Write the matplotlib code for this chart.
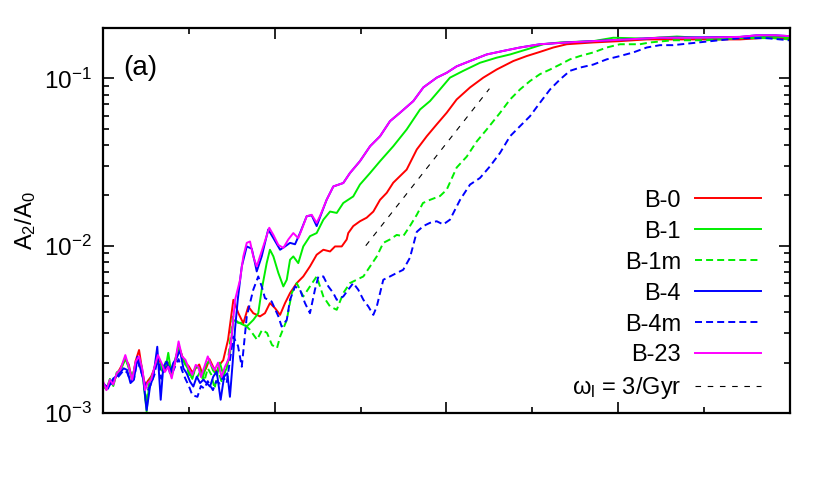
import numpy as np
import matplotlib
matplotlib.use('Agg')
from matplotlib import pyplot as plt
from matplotlib.ticker import LogLocator, NullFormatter, MultipleLocator

plt.rcParams['font.family'] = ['Liberation Sans', 'DejaVu Sans']
plt.rcParams['mathtext.fontset'] = 'custom'
plt.rcParams['mathtext.rm'] = 'Liberation Sans'
plt.rcParams['mathtext.it'] = 'Liberation Sans:italic'
plt.rcParams['mathtext.default'] = 'regular'
plt.rcParams['axes.unicode_minus'] = False

# time (Gyr) and A2/A0
t_b0 = [0.00, 0.02, 0.04, 0.06, 0.08, 0.10, 0.13, 0.15, 0.17, 0.19, 0.21, 0.23, 0.245, 0.26, 0.28, 0.30,
        0.32, 0.34, 0.36, 0.38, 0.40, 0.42, 0.44, 0.46, 0.48, 0.50, 0.52, 0.54, 0.56, 0.58, 0.60, 0.62,
        0.64, 0.66, 0.68, 0.70, 0.728, 0.759, 0.788, 0.817, 0.846, 0.875, 0.914, 0.943, 0.972, 1.001,
        1.031, 1.060, 1.089, 1.128, 1.166, 1.205, 1.244, 1.283, 1.322, 1.351, 1.390, 1.419, 1.428, 1.457,
        1.496, 1.535, 1.574, 1.613, 1.652, 1.690, 1.768, 1.827, 1.885, 1.943, 2.001, 2.059, 2.137, 2.214,
        2.292, 2.389, 2.467, 2.544, 2.622, 2.700, 2.855, 3.010, 3.166, 3.476, 3.709, 3.864, 3.994]
a_b0 = [1.50e-3, 1.40e-3, 1.55e-3, 1.50e-3, 1.70e-3, 1.85e-3, 2.10e-3, 1.95e-3, 1.55e-3, 2.05e-3, 2.38e-3,
        1.75e-3, 1.45e-3, 1.55e-3, 1.65e-3, 1.85e-3, 2.15e-3, 1.95e-3, 1.80e-3, 2.00e-3, 1.70e-3, 2.00e-3,
        2.55e-3, 2.20e-3, 2.00e-3, 1.90e-3, 1.75e-3, 1.85e-3, 1.95e-3, 1.70e-3, 1.85e-3, 2.10e-3, 1.90e-3,
        1.75e-3, 1.95e-3, 2.07e-3, 2.74e-3, 4.75e-3, 3.95e-3, 3.44e-3, 4.33e-3, 3.95e-3, 3.78e-3, 3.95e-3,
        4.54e-3, 4.24e-3, 3.86e-3, 4.54e-3, 5.21e-3, 5.98e-3, 6.55e-3, 7.52e-3, 8.83e-3, 9.46e-3, 9.24e-3,
        9.90e-3, 9.90e-3, 1.09e-2, 1.19e-2, 1.31e-2, 1.40e-2, 1.47e-2, 1.60e-2, 1.88e-2, 2.07e-2, 2.38e-2,
        2.85e-2, 3.76e-2, 4.51e-2, 5.31e-2, 6.23e-2, 7.48e-2, 8.83e-2, 0.101, 0.113, 0.127, 0.136, 0.144,
        0.153, 0.160, 0.164, 0.167, 0.171, 0.171, 0.171, 0.175, 0.173]

t_b1 = [0.00, 0.02, 0.04, 0.06, 0.08, 0.10, 0.13, 0.15, 0.17, 0.19, 0.21, 0.23, 0.254, 0.27, 0.29, 0.31,
        0.33, 0.35, 0.37, 0.38, 0.40, 0.42, 0.44, 0.46, 0.48, 0.50, 0.52, 0.54, 0.56, 0.58, 0.60, 0.62,
        0.64, 0.66, 0.68, 0.70, 0.72, 0.74, 0.759, 0.798, 0.837, 0.875, 0.904, 0.924, 0.953, 0.972, 0.992,
        1.021, 1.050, 1.070, 1.089, 1.108, 1.137, 1.166, 1.205, 1.244, 1.283, 1.322, 1.361, 1.399, 1.457,
        1.496, 1.555, 1.613, 1.690, 1.768, 1.846, 1.904, 1.962, 2.020, 2.098, 2.195, 2.292, 2.370, 2.467,
        2.564, 2.661, 2.855, 2.971, 3.144, 3.342, 3.534, 3.726, 3.924, 3.994]
a_b1 = [1.45e-3, 1.38e-3, 1.60e-3, 1.45e-3, 1.75e-3, 1.80e-3, 2.15e-3, 1.85e-3, 1.60e-3, 2.00e-3, 2.10e-3,
        1.75e-3, 1.02e-3, 1.55e-3, 1.70e-3, 2.05e-3, 1.90e-3, 1.75e-3, 2.00e-3, 2.29e-3, 1.65e-3, 2.10e-3,
        2.45e-3, 2.15e-3, 1.95e-3, 1.80e-3, 1.60e-3, 1.90e-3, 1.85e-3, 1.60e-3, 1.95e-3, 2.05e-3, 1.80e-3,
        1.70e-3, 2.00e-3, 1.70e-3, 1.85e-3, 2.30e-3, 3.60e-3, 3.44e-3, 3.29e-3, 3.60e-3, 3.95e-3, 5.46e-3,
        7.87e-3, 9.46e-3, 8.63e-3, 6.87e-3, 5.71e-3, 6.26e-3, 8.24e-3, 8.63e-3, 7.87e-3, 9.90e-3, 1.14e-2,
        1.19e-2, 1.43e-2, 1.60e-2, 1.57e-2, 1.80e-2, 1.97e-2, 2.32e-2, 2.72e-2, 3.20e-2, 3.93e-2, 4.95e-2,
        6.52e-2, 7.32e-2, 8.59e-2, 0.101, 0.111, 0.124, 0.133, 0.139, 0.149, 0.160, 0.164, 0.167, 0.175,
        0.173, 0.178, 0.173, 0.175, 0.178, 0.176]

t_b1m = [0.00, 0.02, 0.04, 0.06, 0.08, 0.10, 0.13, 0.15, 0.17, 0.19, 0.21, 0.23, 0.25, 0.27, 0.29, 0.31,
         0.33, 0.35, 0.37, 0.39, 0.41, 0.43, 0.45, 0.47, 0.49, 0.51, 0.53, 0.55, 0.57, 0.59, 0.61, 0.63,
         0.65, 0.67, 0.69, 0.71, 0.728, 0.757, 0.786, 0.815, 0.856, 0.897, 0.926, 0.955, 0.984, 1.013,
         1.031, 1.070, 1.099, 1.128, 1.166, 1.205, 1.244, 1.283, 1.322, 1.361, 1.399, 1.438, 1.477, 1.516,
         1.555, 1.594, 1.632, 1.671, 1.710, 1.748, 1.787, 1.827, 1.863, 1.904, 1.962, 2.001, 2.059, 2.118,
         2.176, 2.234, 2.312, 2.370, 2.428, 2.486, 2.544, 2.603, 2.661, 2.719, 2.777, 2.855, 2.933, 3.010,
         3.126, 3.185, 3.319, 3.515, 3.709, 3.901, 3.994]
a_b1m = [1.50e-3, 1.42e-3, 1.55e-3, 1.52e-3, 1.68e-3, 1.78e-3, 2.10e-3, 1.90e-3, 1.62e-3, 1.95e-3, 2.15e-3,
         1.80e-3, 1.15e-3, 1.50e-3, 1.70e-3, 1.95e-3, 2.05e-3, 1.80e-3, 2.10e-3, 1.75e-3, 1.90e-3, 2.20e-3,
         2.35e-3, 2.05e-3, 1.85e-3, 1.60e-3, 1.75e-3, 1.65e-3, 1.80e-3, 1.55e-3, 1.85e-3, 1.70e-3, 1.40e-3,
         1.80e-3, 1.55e-3, 1.75e-3, 2.08e-3, 3.78e-3, 3.46e-3, 3.46e-3, 3.14e-3, 2.74e-3, 3.14e-3, 3.01e-3,
         2.55e-3, 2.44e-3, 2.86e-3, 3.60e-3, 5.21e-3, 5.98e-3, 4.97e-3, 5.71e-3, 6.55e-3, 4.97e-3, 4.33e-3,
         4.14e-3, 5.21e-3, 5.98e-3, 6.26e-3, 6.55e-3, 7.52e-3, 8.63e-3, 1.04e-2, 1.09e-2, 1.16e-2, 1.14e-2,
         1.31e-2, 1.53e-2, 1.80e-2, 1.88e-2, 1.98e-2, 2.16e-2, 2.93e-2, 3.41e-2, 4.20e-2, 4.95e-2, 6.23e-2,
         7.48e-2, 8.59e-2, 9.64e-2, 0.106, 0.113, 0.121, 0.130, 0.136, 0.143, 0.153, 0.160, 0.160, 0.164,
         0.169, 0.169, 0.174, 0.174, 0.171]

t_b4 = [0.00, 0.03, 0.06, 0.09, 0.12, 0.14, 0.16, 0.18, 0.20, 0.215, 0.235, 0.254, 0.274, 0.293, 0.316,
        0.336, 0.351, 0.371, 0.39, 0.409, 0.429, 0.448, 0.468, 0.487, 0.507, 0.526, 0.546, 0.565, 0.584,
        0.604, 0.623, 0.642, 0.662, 0.685, 0.705, 0.724, 0.739, 0.755, 0.769, 0.785, 0.808, 0.837, 0.866,
        0.885, 0.895, 0.924, 0.962, 0.992, 1.031, 1.060, 1.089, 1.118, 1.147, 1.186, 1.215, 1.244, 1.273,
        1.302, 1.341, 1.399, 1.438, 1.496, 1.555, 1.613, 1.671, 1.729, 1.807, 1.865, 1.943, 2.001, 2.059,
        2.137, 2.234, 2.331, 2.428, 2.544, 2.700, 2.855, 3.049, 3.243, 3.476, 3.709, 3.806, 3.913, 3.994]
a_b4 = [1.51e-3, 1.41e-3, 1.61e-3, 1.69e-3, 1.85e-3, 1.81e-3, 1.51e-3, 1.58e-3, 2.17e-3, 1.89e-3, 1.58e-3,
        1.04e-3, 1.44e-3, 1.65e-3, 2.49e-3, 1.20e-3, 1.89e-3, 2.03e-3, 1.73e-3, 1.99e-3, 2.13e-3, 2.38e-3,
        1.85e-3, 1.73e-3, 1.54e-3, 1.44e-3, 1.65e-3, 1.51e-3, 1.58e-3, 1.51e-3, 1.44e-3, 1.65e-3, 1.77e-3,
        1.20e-3, 1.65e-3, 1.73e-3, 1.25e-3, 2.00e-3, 3.20e-3, 4.80e-3, 7.52e-3, 9.90e-3, 9.60e-3, 7.87e-3,
        7.02e-3, 8.63e-3, 1.25e-2, 1.11e-2, 9.46e-3, 9.90e-3, 1.04e-2, 1.02e-2, 1.19e-2, 1.50e-2, 1.52e-2,
        1.31e-2, 1.57e-2, 1.88e-2, 2.26e-2, 2.37e-2, 2.72e-2, 3.20e-2, 3.93e-2, 4.51e-2, 5.55e-2, 6.23e-2,
        7.32e-2, 8.83e-2, 0.101, 0.108, 0.118, 0.127, 0.139, 0.146, 0.153, 0.160, 0.164, 0.167, 0.171,
        0.175, 0.176, 0.177, 0.181, 0.181, 0.179]

t_b4m = [0.00, 0.03, 0.06, 0.09, 0.12, 0.14, 0.16, 0.18, 0.20, 0.22, 0.24, 0.26, 0.28, 0.30, 0.32, 0.34,
         0.36, 0.38, 0.40, 0.42, 0.44, 0.46, 0.48, 0.50, 0.52, 0.55, 0.57, 0.59, 0.61, 0.64, 0.66, 0.68,
         0.70, 0.720, 0.759, 0.786, 0.808, 0.837, 0.875, 0.904, 0.924, 0.943, 0.982, 1.021, 1.040, 1.070,
         1.089, 1.118, 1.147, 1.176, 1.205, 1.234, 1.254, 1.283, 1.312, 1.341, 1.361, 1.399, 1.428, 1.457,
         1.486, 1.516, 1.545, 1.574, 1.594, 1.632, 1.671, 1.710, 1.748, 1.787, 1.827, 1.865, 1.904, 1.943,
         1.981, 2.020, 2.079, 2.137, 2.195, 2.253, 2.312, 2.370, 2.428, 2.486, 2.544, 2.603, 2.661, 2.719,
         2.777, 2.855, 2.933, 3.010, 3.088, 3.166, 3.243, 3.319, 3.515, 3.709, 3.864, 3.942, 3.994]
a_b4m = [1.48e-3, 1.40e-3, 1.58e-3, 1.65e-3, 1.80e-3, 1.75e-3, 1.55e-3, 1.60e-3, 2.05e-3, 1.80e-3, 1.55e-3,
         1.35e-3, 1.50e-3, 1.70e-3, 2.20e-3, 1.60e-3, 1.85e-3, 1.95e-3, 1.70e-3, 1.90e-3, 2.10e-3, 1.80e-3,
         1.60e-3, 1.45e-3, 1.28e-3, 1.25e-3, 1.45e-3, 1.40e-3, 1.55e-3, 1.37e-3, 1.55e-3, 1.50e-3, 1.65e-3,
         1.51e-3, 2.86e-3, 2.52e-3, 1.89e-3, 3.78e-3, 5.46e-3, 6.55e-3, 5.71e-3, 4.86e-3, 4.64e-3, 3.78e-3,
         3.29e-3, 3.60e-3, 4.75e-3, 5.71e-3, 5.46e-3, 4.54e-3, 3.95e-3, 5.46e-3, 6.55e-3, 6.55e-3, 5.71e-3,
         5.21e-3, 4.75e-3, 4.97e-3, 5.46e-3, 5.98e-3, 5.46e-3, 4.75e-3, 4.33e-3, 3.86e-3, 4.33e-3, 6.26e-3,
         6.55e-3, 6.87e-3, 7.18e-3, 8.47e-3, 1.21e-2, 1.31e-2, 1.37e-2, 1.40e-2, 1.34e-2, 1.43e-2, 1.88e-2,
         2.32e-2, 2.54e-2, 2.98e-2, 3.59e-2, 4.51e-2, 5.18e-2, 5.94e-2, 7.15e-2, 8.59e-2, 9.86e-2, 0.111,
         0.116, 0.121, 0.130, 0.136, 0.143, 0.153, 0.158, 0.158, 0.166, 0.174, 0.174, 0.171, 0.169]

t_b23 = [0.00, 0.02, 0.04, 0.06, 0.08, 0.10, 0.13, 0.15, 0.17, 0.19, 0.21, 0.23, 0.245, 0.26, 0.28, 0.30,
         0.32, 0.34, 0.36, 0.38, 0.40, 0.42, 0.44, 0.46, 0.48, 0.50, 0.52, 0.54, 0.555, 0.57, 0.59, 0.61,
         0.63, 0.65, 0.67, 0.69, 0.71, 0.73, 0.745, 0.769, 0.798, 0.817, 0.837, 0.856, 0.875, 0.895, 0.933,
         0.968, 0.992, 1.021, 1.050, 1.079, 1.108, 1.137, 1.157, 1.186, 1.215, 1.244, 1.263, 1.302, 1.341,
         1.399, 1.438, 1.496, 1.555, 1.613, 1.671, 1.729, 1.807, 1.865, 1.943, 2.001, 2.059, 2.137, 2.234,
         2.331, 2.428, 2.544, 2.700, 2.855, 3.049, 3.243, 3.476, 3.709, 3.806, 3.913, 3.994]
a_b23 = [1.55e-3, 1.37e-3, 1.58e-3, 1.48e-3, 1.73e-3, 1.81e-3, 2.22e-3, 1.89e-3, 1.58e-3, 2.03e-3, 2.18e-3,
         1.81e-3, 1.37e-3, 1.51e-3, 1.58e-3, 1.89e-3, 2.22e-3, 2.00e-3, 1.76e-3, 1.89e-3, 1.61e-3, 2.03e-3,
         2.68e-3, 2.18e-3, 2.08e-3, 1.84e-3, 1.69e-3, 1.94e-3, 1.89e-3, 1.64e-3, 1.89e-3, 2.18e-3, 1.94e-3,
         1.81e-3, 2.00e-3, 1.64e-3, 1.89e-3, 2.08e-3, 2.62e-3, 4.75e-3, 6.26e-3, 8.63e-3, 1.04e-2, 1.06e-2,
         8.63e-3, 7.52e-3, 9.90e-3, 1.28e-2, 1.16e-2, 1.01e-2, 9.70e-3, 1.09e-2, 1.19e-2, 1.11e-2, 1.25e-2,
         1.50e-2, 1.53e-2, 1.37e-2, 1.50e-2, 1.88e-2, 2.26e-2, 2.37e-2, 2.72e-2, 3.20e-2, 3.93e-2, 4.51e-2,
         5.55e-2, 6.23e-2, 7.32e-2, 8.83e-2, 0.101, 0.108, 0.118, 0.127, 0.139, 0.146, 0.153, 0.160, 0.164,
         0.167, 0.171, 0.175, 0.175, 0.177, 0.181, 0.181, 0.179]

# growth-rate guide, omega_l = 3/Gyr
t_fit = [1.53, 2.25]
a_fit = [0.0100, 0.0868]

fig = plt.figure(figsize=(8.3, 4.9), dpi=100)
ax = fig.add_axes([0.1241, 0.1571, 0.8277, 0.7857])

lw = 1.4
dash = (0, (3.6, 2.1))
ax.plot(t_b0, a_b0, color='#ff0000', lw=lw, label='B-0')
ax.plot(t_b1, a_b1, color='#00ee00', lw=lw, label='B-1')
ax.plot(t_b1m, a_b1m, color='#00ee00', lw=lw, ls=dash, label='B-1m')
ax.plot(t_b4, a_b4, color='#0000ff', lw=lw, label='B-4')
ax.plot(t_b4m, a_b4m, color='#0000ff', lw=lw, ls=dash, label='B-4m')
ax.plot(t_b23, a_b23, color='#ff00ff', lw=lw, label='B-23')
ax.plot(t_fit, a_fit, color='black', lw=0.8, ls=(0, (5, 6)), label='ω$_{l}$ = 3/Gyr')

ax.set_yscale('log')
ax.set_xlim(0, 4)
ax.set_ylim(1e-3, 0.2)

ax.xaxis.set_major_locator(MultipleLocator(1))
ax.xaxis.set_minor_locator(MultipleLocator(0.5))
ax.set_xticklabels([])
ax.yaxis.set_major_locator(LogLocator(base=10, numticks=10))
ax.yaxis.set_minor_locator(LogLocator(base=10, subs=np.arange(2, 10), numticks=10))
ax.yaxis.set_minor_formatter(NullFormatter())

ax.tick_params(which='both', direction='in', top=True, right=True, width=1.2, labelsize=17.5, pad=8)
ax.tick_params(which='major', length=8)
ax.tick_params(which='minor', length=4)
for s in ax.spines.values():
    s.set_linewidth(1.6)

ax.set_ylabel('A$_2$/A$_0$', fontsize=17)
ax.yaxis.set_label_coords(-0.095, 0.5)

ax.text(0.029, 0.895, '(a)', transform=ax.transAxes, fontsize=20, va='center', ha='left')

leg = ax.legend(loc='lower right', bbox_to_anchor=(0.958, 0.03), frameon=False, fontsize=17,
                markerfirst=False, handlelength=2.8, handletextpad=0.6, labelspacing=0.38,
                borderpad=0, borderaxespad=0)
for col in leg._legend_handle_box.get_children():
    col.align = 'right'

fig.savefig('out.png', dpi=100)
